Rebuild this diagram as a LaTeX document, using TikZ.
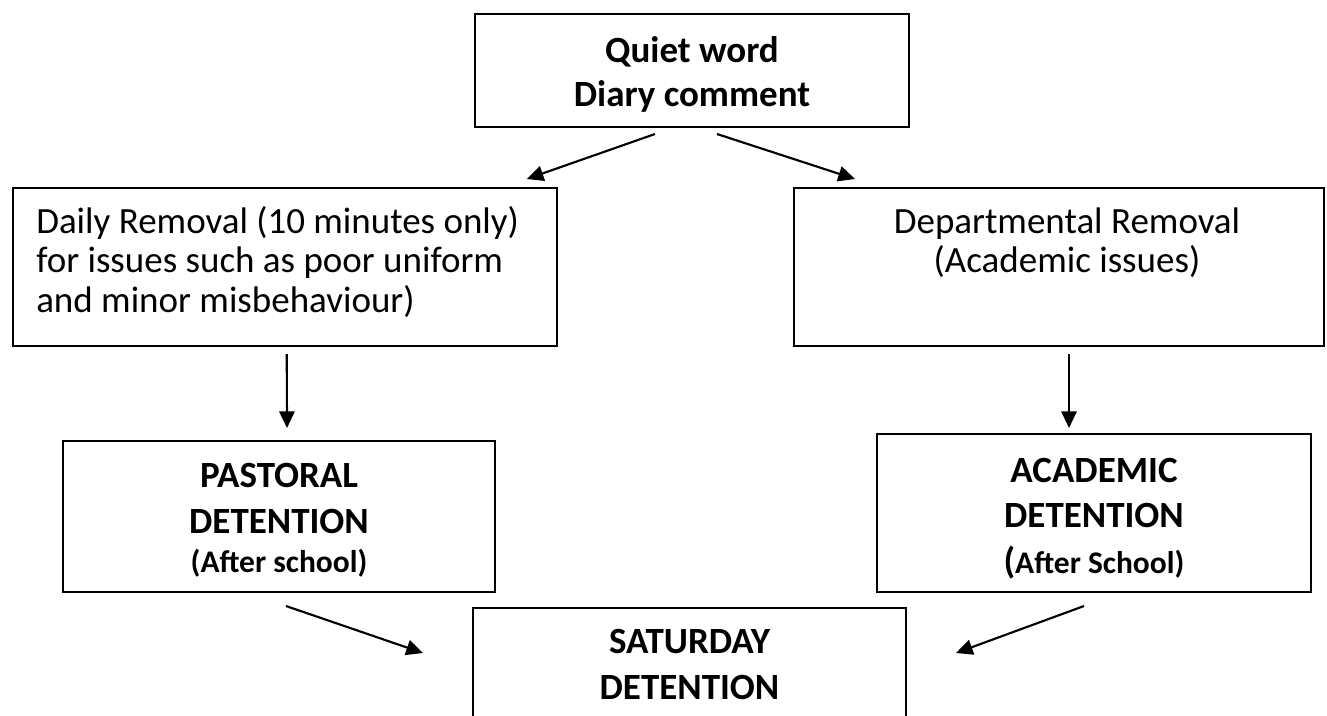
\documentclass[tikz,border=0pt]{standalone}
\usepackage{fontspec}
\setmainfont{Carlito}
\usetikzlibrary{arrows.meta,calc}
\begin{document}
\begin{tikzpicture}[x=0.75pt,y=-0.75pt,
  box/.style={draw=black,line width=1.5pt,inner sep=0pt,rectangle},
  big/.style={font=\fontsize{27.75pt}{33pt}\selectfont, inner sep=0pt},
  bigb/.style={font=\fontsize{27.75pt}{33pt}\selectfont\bfseries, inner sep=0pt},
  smallb/.style={font=\fontsize{23.6pt}{28pt}\selectfont\bfseries, inner sep=0pt},
  arr/.style={line width=1.6pt,-{Triangle[length=12.5pt,width=11.5pt]}}]
\fill[white] (0,0) rectangle (1327,715);
\clip (0,0) rectangle (1327,715);

% boxes
\node[box, minimum width=325.5pt, minimum height=84.75pt] (quiet) at (692,70.5) {};
\node[box, minimum width=408.375pt, minimum height=118.5pt] (daily) at (284.75,267) {};
\node[box, minimum width=397.5pt, minimum height=118.5pt] (dept) at (1059,267) {};
\node[box, minimum width=324pt, minimum height=113.25pt] (past) at (279,516.5) {};
\node[box, minimum width=325.5pt, minimum height=118.5pt] (acad) at (1094,513) {};
\node[box, minimum width=324.75pt, minimum height=118.5pt] (sat) at (689.5,687) {};

% texts
\node[bigb, anchor=base] (q1) at (692,62) {Quiet word};
\node[bigb, anchor=base] (q2) at (692,106) {Diary comment};

\node[big, anchor=base west] (d1) at (36,233) {Daily Removal (10 minutes only)};
\node[big, anchor=base west] (d2) at (36,272.5) {for issues such as poor uniform};
\node[big, anchor=base west] (d3) at (36,312) {and minor misbehaviour)};

\node[big, anchor=base] (r1) at (1067,233) {Departmental Removal};
\node[big, anchor=base] (r2) at (1067,272.5) {(Academic issues)};

\node[bigb, anchor=base] (p1) at (279,487) {PASTORAL};
\node[bigb, anchor=base] (p2) at (279,533) {DETENTION};
\node[smallb, anchor=base] (p3) at (279,572) {(After school)};

\node[bigb, anchor=base] (a1) at (1094,482) {ACADEMIC};
\node[bigb, anchor=base] (a2) at (1094,527) {DETENTION};
\node[smallb, anchor=base] (a3) at (1094,573) {{\fontsize{27.75pt}{33pt}\selectfont(}After School)};

\node[bigb, anchor=base] (s1) at (689.5,653) {SATURDAY};
\node[bigb, anchor=base] (s2) at (689.5,699) {DETENTION};

% connectors
\draw[arr] ($(quiet.south)+(-37,6)$) -- ($(daily.north)+(242,-8)$);
\draw[arr] ($(quiet.south)+(25,6)$) -- ($(dept.north)+(-204,-8)$);
\draw[arr] ($(daily.south)+(2,7)$) -- ($(past.north)+(8,-12)$);
\draw[arr] ($(dept.south)+(10,7)$) -- ($(acad.north)+(-25,-5)$);
\draw[arr] ($(past.south)+(7,13)$) -- ($(sat.north west)+(-49,46)$);
\draw[arr] ($(acad.south)+(-10,13)$) -- ($(sat.north east)+(49,46)$);
\end{tikzpicture}
\end{document}
